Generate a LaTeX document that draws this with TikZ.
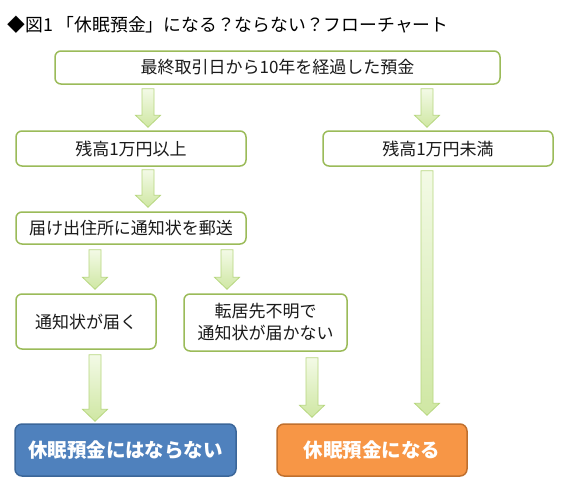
\documentclass[tikz,border=0pt]{standalone}
\usepackage{fontspec}
\setmainfont{Noto Sans CJK JP}
\usetikzlibrary{calc}
\definecolor{gborder}{HTML}{9BBB59}
\definecolor{arrowborder}{HTML}{B7D77F}
\definecolor{arrowtop}{HTML}{F3FAE6}
\definecolor{arrowbottom}{HTML}{CFE7A3}
\definecolor{bluefill}{HTML}{4F81BD}
\definecolor{blueedge}{HTML}{3B6699}
\definecolor{orangefill}{HTML}{F79646}
\definecolor{orangeedge}{HTML}{C0702E}
\definecolor{boxtext}{HTML}{1A1A1A}
\tikzset{
  box/.style={draw=gborder, line width=1.5pt, rounded corners=6pt, fill=white,
    align=center, text=boxtext, font=\fontsize{17}{22}\selectfont, inner sep=0pt},
  endbox/.style={rounded corners=7pt, line width=1.5pt, align=center,
    font=\fontsize{19.5}{24}\selectfont\bfseries, text=white, inner sep=0pt},
  arr/.style={draw=arrowborder, line width=0.8pt, top color=arrowtop,
    bottom color=arrowbottom, line join=miter},
}
% #1 from node, #2 to node, #3 x position, #4 gap below source, #5 gap above target
\newcommand\flowarrow[5]{%
  \path[arr] let \p1=(#1.south), \p2=(#2.north) in
    ({#3pt-6pt},{\y1-#4pt}) -- ({#3pt+6pt},{\y1-#4pt})
    -- ({#3pt+6pt},{\y2+#5pt+12pt}) -- ({#3pt+12.5pt},{\y2+#5pt+12pt})
    -- ({#3pt},{\y2+#5pt}) -- ({#3pt-12.5pt},{\y2+#5pt+12pt})
    -- ({#3pt-6pt},{\y2+#5pt+12pt}) -- cycle;}
\begin{document}
\begin{tikzpicture}[x=1pt,y=-1pt]
  \fill[white] (0,0) rectangle (568,488);
  \useasboundingbox (0,0) rectangle (568,488);

  \node[anchor=west, font=\fontsize{17.8}{20}\selectfont] (title) at (4,25)
    {◆図1 「休眠預金」になる？ならない？フローチャート};

  \node[box, minimum width=445pt, minimum height=33pt] (top) at (277.5,67.5)
    {最終取引日から10年を経過した預金};
  \node[box, minimum width=230pt, minimum height=35pt] (hi) at (131,148.5)
    {残高1万円以上};
  \node[box, minimum width=230pt, minimum height=35pt] (lo) at (438,148.5)
    {残高1万円未満};
  \node[box, minimum width=230pt, minimum height=32pt] (mail) at (131,228)
    {届け出住所に通知状を郵送};
  \node[box, minimum width=140pt, minimum height=55pt] (arrive) at (86,321.5)
    {通知状が届く};
  \node[box, minimum width=163pt, minimum height=57pt] (noarrive) at (265.5,322.5)
    {転居先不明で\\通知状が届かない};
  \node[endbox, draw=blueedge, fill=bluefill, minimum width=221pt, minimum height=52pt]
    (stay) at (125.5,450) {休眠預金にはならない};
  \node[endbox, draw=orangeedge, fill=orangefill, minimum width=190pt, minimum height=52pt]
    (dormant) at (372,450) {休眠預金になる};

  \flowarrow{top}{hi}{148}{4}{3}
  \flowarrow{top}{lo}{427}{4}{3}
  \flowarrow{hi}{mail}{148}{3}{4}
  \flowarrow{mail}{arrive}{95}{5}{4}
  \flowarrow{mail}{noarrive}{227}{5}{4}
  \flowarrow{arrive}{stay}{95}{5}{2}
  \flowarrow{noarrive}{dormant}{312}{6}{6}
  \flowarrow{lo}{dormant}{427}{4}{8}
\end{tikzpicture}
\end{document}
